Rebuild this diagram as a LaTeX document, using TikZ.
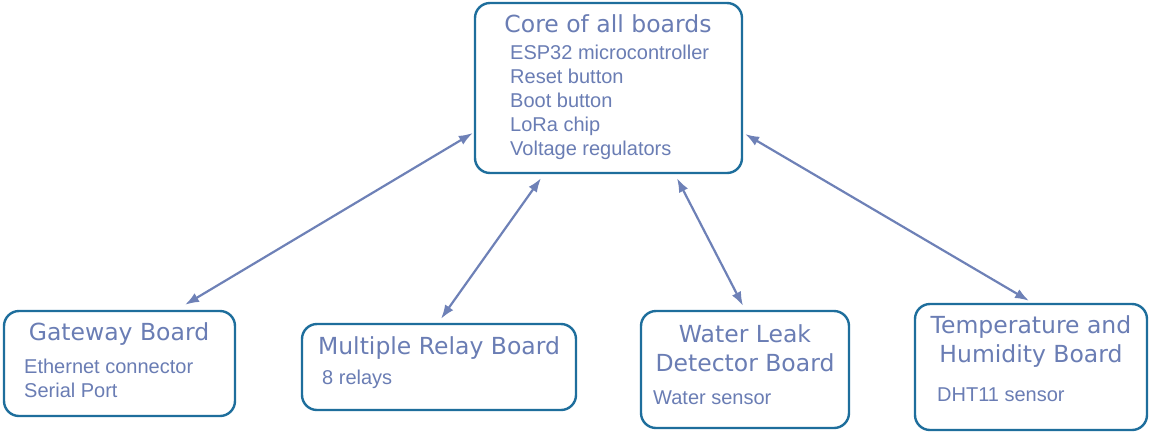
\documentclass[tikz,border=0pt]{standalone}
\usepackage{fontspec}
\setmainfont{Liberation Sans}
\newfontfamily\titlefont{DejaVu Sans}
\usetikzlibrary{arrows.meta}
\definecolor{boxline}{HTML}{1E6E9C}
\definecolor{labeltext}{HTML}{6A7DB4}
\definecolor{linkline}{HTML}{6E81B7}

\begin{document}
\begin{tikzpicture}[x=1pt,y=-1pt,
    board/.style={draw=boxline, line width=2.4pt, rounded corners=15pt, fill=white, inner sep=0pt},
    title/.style={text=labeltext, font=\titlefont\fontsize{23.5}{28.5}\selectfont, align=center, inner sep=0pt},
    item/.style={text=labeltext, font=\fontsize{20}{24}\selectfont, align=left, inner sep=0pt, anchor=west},
    link/.style={draw=linkline, line width=2.2pt, {Latex[length=14pt,width=10pt]}-{Latex[length=14pt,width=10pt]}}]
            % fix the page size
            \useasboundingbox (0,0) rectangle (1149,432);

            % draw the core box
            \node[board, minimum width=267pt, minimum height=170pt] (core) at (608.5,88) {};
            \node[title] (coretitle) at (608,24) {Core of all boards};
            \node[item] (coreitems) at (510,102) {ESP32 microcontroller\\Reset button\\Boot button\\LoRa chip\\Voltage regulators};

            % draw the boards
            \node[board, minimum width=231pt, minimum height=105pt] (gate) at (119.5,363.5) {};
            \node[title] (gatetitle) at (119,334) {Gateway Board};
            \node[item] (gateitems) at (24,378.5) {Ethernet connector\\Serial Port};

            \node[board, minimum width=274pt, minimum height=86pt] (relay) at (439,367) {};
            \node[title] (relaytitle) at (439,348) {Multiple Relay Board};
            \node[item] (relayitems) at (322,379) {8 relays};

            \node[board, minimum width=208pt, minimum height=117pt] (leak) at (745,369.5) {};
            \node[title] (leaktitle) at (745,348) {Water Leak\\Detector Board};
            \node[item] (leakitems) at (653,398) {Water sensor};

            \node[board, minimum width=232pt, minimum height=126pt] (temp) at (1031,367) {};
            \node[title] (temptitle) at (1031,341.5) {Temperature and\\Humidity Board};
            \node[item] (tempitems) at (937,395) {DHT11 sensor};

            % draw the links
            \draw[link] ([xshift=65.5pt,yshift=5pt]gate.north) -- ([xshift=-1pt,yshift=-45pt]core.west);
            \draw[link] ([xshift=2pt,yshift=4pt]relay.north) -- ([xshift=-67.5pt,yshift=-4pt]core.south);
            \draw[link] ([xshift=-2pt,yshift=4pt]leak.north) -- ([xshift=68.5pt,yshift=-4pt]core.south);
            \draw[link] ([xshift=-2pt,yshift=2pt]temp.north) -- ([xshift=2pt,yshift=-46pt]core.east);
        \end{tikzpicture}
\end{document}
